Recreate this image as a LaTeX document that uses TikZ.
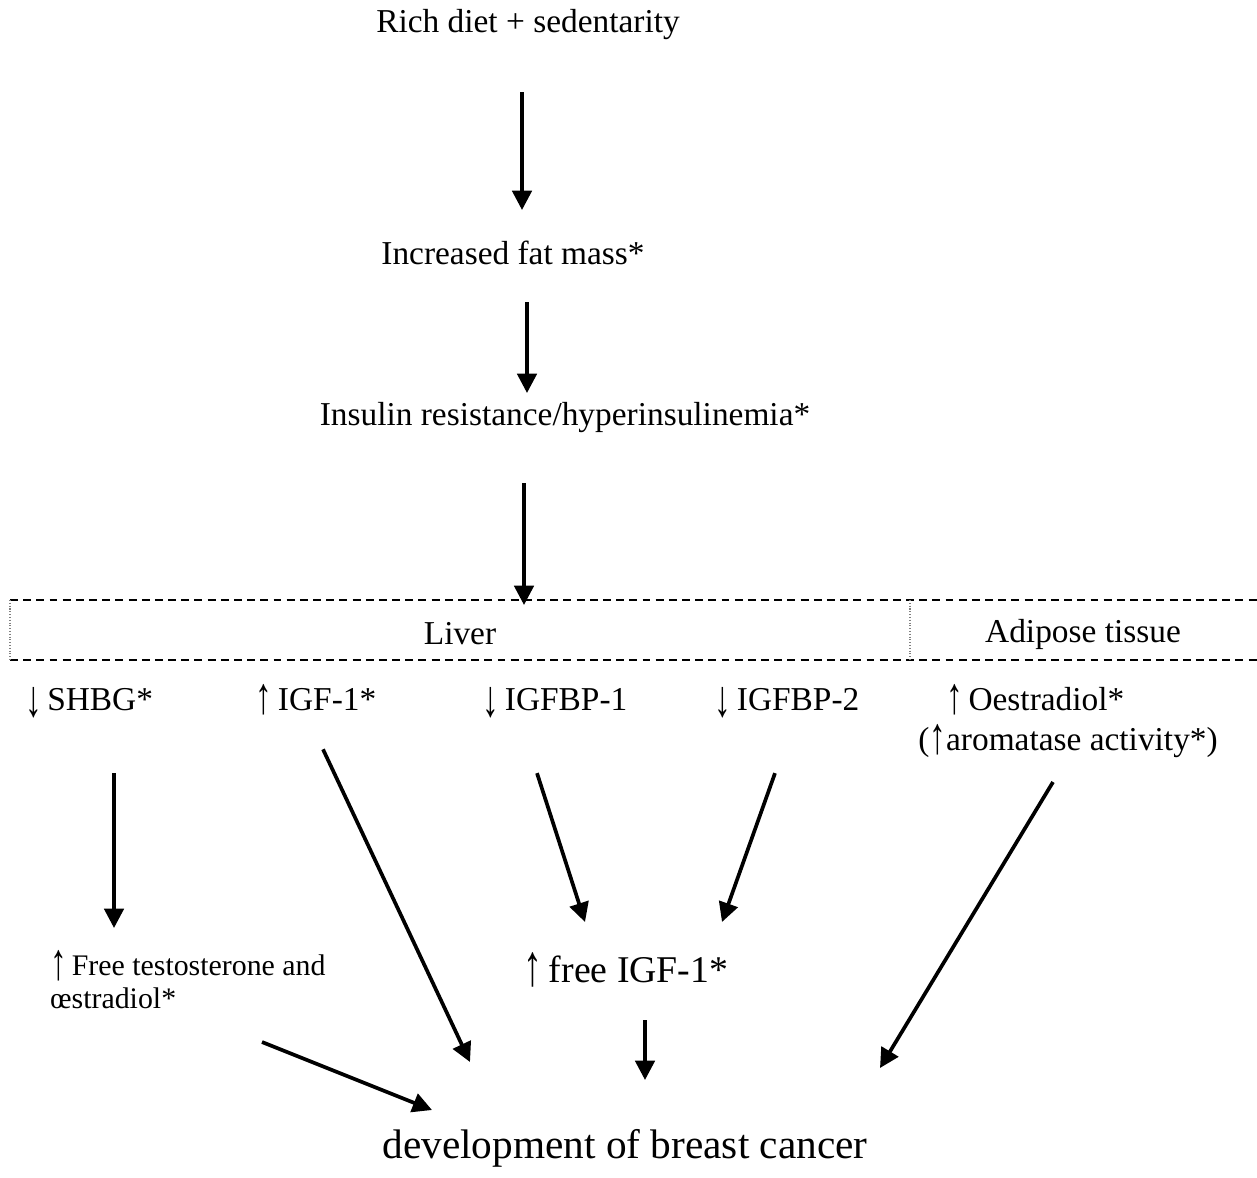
\documentclass[tikz,border=0pt]{standalone}
\usepackage{fontspec}
\setmainfont{Liberation Serif}
\usetikzlibrary{arrows.meta,calc,positioning}

\newcommand{\flup}{\raisebox{-0.2ex}{\scalebox{1}[1.55]{↑}}}
\newcommand{\fldown}{\raisebox{-0.45ex}{\scalebox{1}[1.55]{↓}}}

\tikzstyle{texto}=[inner sep=1pt,font=\fontsize{19}{23}\selectfont]
\tikzstyle{fila}=[texto,anchor=base]
\tikzstyle{grande}=[inner sep=1pt,font=\fontsize{23.5}{27}\selectfont]
\tikzstyle{chico}=[inner sep=1pt,font=\fontsize{17}{18.5}\selectfont,align=left]
\tikzstyle{flecha}=[line width=2.1pt,-{Triangle[length=11pt,width=11pt]}]
\tikzstyle{borde}=[line width=0.8pt,dash pattern=on 4.5pt off 3pt]
\tikzstyle{lado}=[line width=0.6pt,gray,densely dotted]

\begin{document}
\begin{tikzpicture}[x=0.02cm,y=-0.02cm]
  \useasboundingbox (0,0) rectangle (1257,1177);

  \begin{scope}
    % top chain
    \node [texto] (rich) at (528,25) {Rich diet + sedentarity};
    \node [texto] (fat) at (513,253) {Increased fat mass*};
    \node [texto] (insulin) at (565,418) {Insulin resistance/hyperinsulinemia*};

    \draw [flecha] ($(rich)+(-6,67)$) -- ($(fat)+(9,-43)$);
    \draw [flecha] ($(fat)+(14,49)$) -- ($(insulin)+(-38,-25)$);

    % organ band
    \node [texto] (liver) at (460,634) {Liver};
    \node [texto] (adipose) at (1083,634) {Adipose tissue};
    \draw [borde] (10,600) -- (1257,600);
    \draw [borde] (10,660) -- (1257,660);
    \draw [lado] (10,600) -- (10,660);
    \draw [lado] (910,600) -- (910,660);

    \draw [flecha] ($(insulin)+(-41,65)$) -- ($(liver)+(64,-29)$);
  \end{scope}

  \begin{scope}
    % effects
    \node [fila] (shbg) at (89,710) {\fldown\,SHBG*};
    \node [fila] (igf) at (316,710) {\flup\,IGF-1*};
    \node [fila] (bp1) at (555,710) {\fldown\,IGFBP-1};
    \node [fila] (bp2) at (787,710) {\fldown\,IGFBP-2};
    \node [texto,align=left] (oestr) at (1068,721)
      {\hspace*{0.56cm}\flup\,Oestradiol*\\(\flup aromatase activity*)};

    \node [chico,anchor=west] (freetest) at (48,982)
      {\smash{\fontsize{19}{17}\selectfont\flup}\,Free testosterone and\\œstradiol*};
    \node [grande,font=\fontsize{21.5}{25}\selectfont] (freeigf) at (626,970) {\flup\,free IGF-1*};
    \node [grande] (dev) at (625,1148) {development of breast cancer};

    \draw [flecha] ($(shbg)+(25,70)$) -- ($(freetest.west)+(66,-54)$);
    \draw [flecha] ($(igf)+(7,50)$) -- ($(dev)+(-155,-86)$);
    \draw [flecha] ($(bp1)+(-18,70)$) -- ($(freeigf)+(-41,-48)$);
    \draw [flecha] ($(bp2)+(-12,70)$) -- ($(freeigf)+(96,-48)$);
    \draw [flecha] ($(oestr)+(-15,61)$) -- ($(dev)+(255,-80)$);
    \draw [flecha] ($(freeigf)+(19,50)$) -- ($(dev)+(20,-68)$);
    \draw [flecha] ($(freetest.west)+(214,60)$) -- ($(dev)+(-193,-38)$);
  \end{scope}

\end{tikzpicture}
\end{document}
